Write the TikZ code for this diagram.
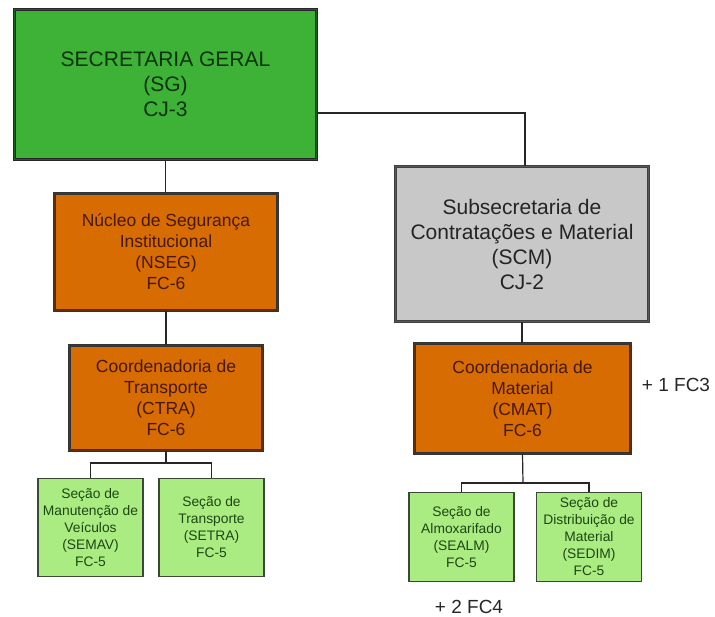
\documentclass[tikz,border=0pt]{standalone}
\usepackage{fontspec}
\setmainfont{Liberation Sans}
\definecolor{sgfill}{RGB}{61,178,54}
\definecolor{sgrim}{RGB}{30,96,30}
\definecolor{sgtext}{RGB}{12,50,12}
\definecolor{orfill}{RGB}{214,108,2}
\definecolor{orrim}{RGB}{96,48,10}
\definecolor{ortext}{RGB}{72,24,0}
\definecolor{gyfill}{RGB}{200,200,200}
\definecolor{gyrim}{RGB}{88,88,88}
\definecolor{gytext}{RGB}{36,36,36}
\definecolor{lgfill}{RGB}{170,236,130}
\definecolor{lgrim}{RGB}{58,72,52}
\definecolor{lgtext}{RGB}{30,70,18}
\begin{document}
\begin{tikzpicture}[x=1pt,y=-1pt,
  unit/.style={rectangle, align=center, inner sep=0pt, line width=0.7pt,
    double distance=1.6pt},
  topunit/.style={unit, draw=black!85, double=sgrim, fill=sgfill, text=sgtext,
    font=\fontsize{21}{25}\selectfont},
  subunit/.style={unit, draw=black!75, double=gyrim, fill=gyfill, text=gytext,
    font=\fontsize{21}{25}\selectfont},
  coordunit/.style={unit, draw=black!80, double=orrim, fill=orfill, text=ortext,
    font=\fontsize{17.5}{21}\selectfont},
  section/.style={rectangle, align=center, inner sep=0pt, line width=1.3pt,
    draw=lgrim, fill=lgfill, text=lgtext, minimum width=105pt,
    font=\fontsize{13.8}{17}\selectfont},
  link/.style={line width=1.2pt, draw=black!85},
  extra/.style={inner sep=0pt, text=black!85, font=\fontsize{19}{22}\selectfont}]
\useasboundingbox (0,0) rectangle (715,616);

% Secretaria Geral
\node[topunit, minimum width=302pt, minimum height=150pt] (SG) at (165.5,84.5)
  {SECRETARIA GERAL\\(SG)\\CJ-3};

% Left branch
\node[coordunit, minimum width=223pt, minimum height=117pt] (NSEG) at (166,252)
  {Núcleo de Segurança\\Institucional\\(NSEG)\\FC-6};
\node[coordunit, minimum width=193pt, minimum height=105pt] (CTRA) at (166,398)
  {Coordenadoria de\\Transporte\\(CTRA)\\FC-6};
\node[section, minimum height=98pt] (SEMAV) at (90.5,527.5)
  {Seção de\\Manutenção de\\Veículos\\(SEMAV)\\FC-5};
\node[section, minimum height=98pt] (SETRA) at (211.5,527.5)
  {Seção de\\Transporte\\(SETRA)\\FC-5};

% Right branch
\node[subunit, minimum width=253pt, minimum height=155pt] (SCM) at (522,244)
  {Subsecretaria de\\Contratações e Material\\(SCM)\\CJ-2};
\node[coordunit, minimum width=216pt, minimum height=110pt] (CMAT) at (522.5,398.5)
  {Coordenadoria de\\Material\\(CMAT)\\FC-6};
\node[section, minimum height=89pt] (SEALM) at (461.5,537)
  {Seção de\\Almoxarifado\\(SEALM)\\FC-5};
\node[section, minimum height=89pt] (SEDIM) at (589,537)
  {Seção de\\Distribuição de\\Material\\(SEDIM)\\FC-5};

% Extra positions
\node[extra] (fc3) at (676,385) {+ 1 FC3};
\node[extra] (fc4) at (469,607) {+ 2 FC4};

% Connectors
\draw[link] ([yshift=-28.5pt]SG.east) -| ([xshift=3pt]SCM.north);
\draw[link] (SG.south) -- (SG.south |- NSEG.north);
\draw[link] (NSEG.south) -- (NSEG.south |- CTRA.north);
\coordinate (tbus) at (166,463);
\draw[link] (CTRA.south) -- (tbus);
\draw[link] (tbus) -| (SEMAV.north);
\draw[link] (tbus) -| (SETRA.north);
\draw[link] (SCM.south) -- (SCM.south |- CMAT.north);
\coordinate (mbus) at (523,483);
\draw[link] (CMAT.south) -- (mbus);
\draw[link] (mbus) -| (SEALM.north);
\draw[link] (mbus) -| (SEDIM.north);
\end{tikzpicture}
\end{document}
